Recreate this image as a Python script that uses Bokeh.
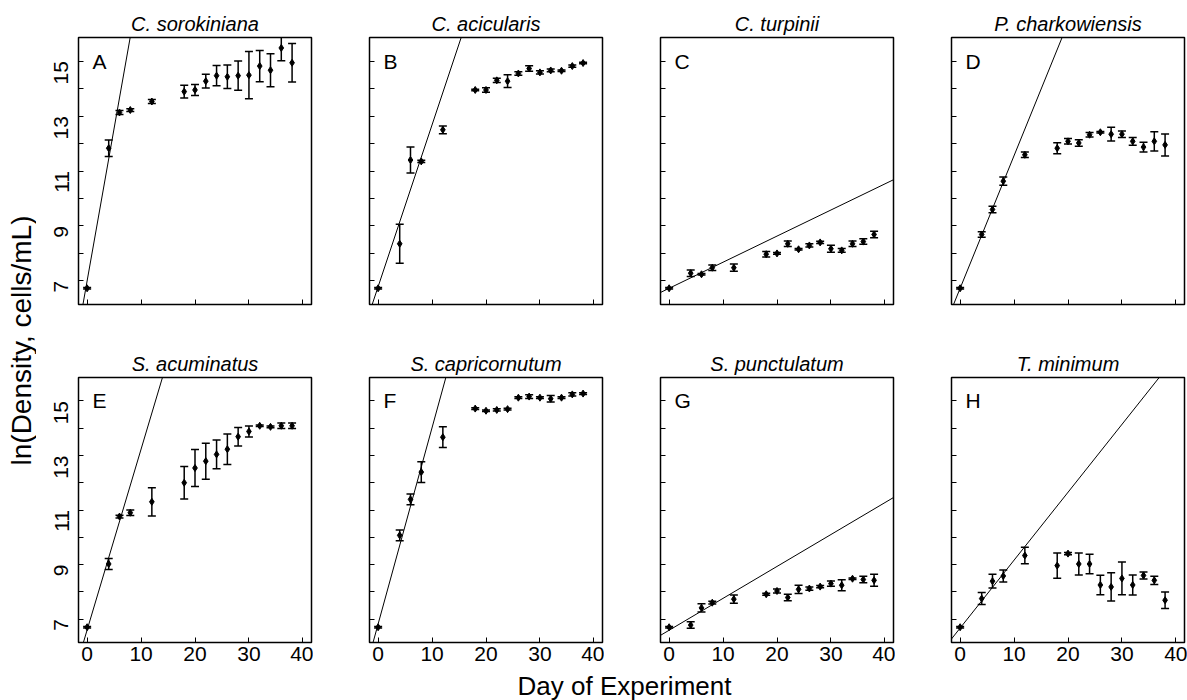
import math
from bokeh.plotting import figure
from bokeh.models import (ColumnDataSource, Whisker, TeeHead, Slope, Range1d,
                          FixedTicker, Label)
from bokeh.layouts import row, column
from bokeh.embed import file_html
from bokeh.resources import INLINE

FONT = "Liberation Sans"

days = [0, 4, 6, 8, 12, 18, 20, 22, 24, 26, 28, 30, 32, 34, 36, 38]
species = ["C. sorokiniana", "C. acicularis", "C. turpinii", "P. charkowiensis",
           "S. acuminatus", "S. capricornutum", "S. punctulatum", "T. minimum"]
letters = ["A", "B", "C", "D", "E", "F", "G", "H"]

A_mean = [6.73, 11.83, 13.13, 13.22, 13.53, 13.89, 13.95, 14.27, 14.47, 14.43, 14.47, 14.49, 14.82, 14.67, 15.48, 14.94]
A_err = [0.03, 0.30, 0.07, 0.05, 0.07, 0.23, 0.20, 0.25, 0.37, 0.43, 0.53, 0.86, 0.57, 0.60, 0.47, 0.70]
B_mean = [6.73, 8.35, 11.40, 11.35, 12.50, 13.95, 13.95, 14.30, 14.27, 14.55, 14.73, 14.59, 14.66, 14.65, 14.82, 14.93]
B_err = [0.03, 0.71, 0.47, 0.04, 0.14, 0.03, 0.08, 0.08, 0.23, 0.06, 0.10, 0.06, 0.05, 0.03, 0.04, 0.03]
C_mean = [6.73, 7.28, 7.24, 7.48, 7.48, 7.97, 8.00, 8.35, 8.15, 8.29, 8.40, 8.17, 8.11, 8.35, 8.43, 8.69]
C_err = [0.03, 0.12, 0.03, 0.10, 0.13, 0.10, 0.03, 0.10, 0.03, 0.06, 0.04, 0.13, 0.07, 0.10, 0.10, 0.12]
D_mean = [6.73, 8.69, 9.60, 10.63, 11.59, 11.83, 12.08, 12.02, 12.32, 12.41, 12.34, 12.34, 12.08, 11.87, 12.08, 11.95]
D_err = [0.03, 0.10, 0.12, 0.15, 0.10, 0.20, 0.10, 0.12, 0.08, 0.03, 0.25, 0.12, 0.14, 0.18, 0.35, 0.40]
E_mean = [6.70, 9.02, 10.76, 10.90, 11.30, 12.00, 12.54, 12.79, 13.04, 13.23, 13.69, 13.88, 14.09, 14.05, 14.09, 14.09]
E_err = [0.03, 0.20, 0.05, 0.10, 0.52, 0.60, 0.68, 0.66, 0.53, 0.56, 0.34, 0.20, 0.03, 0.03, 0.10, 0.10]
F_mean = [6.70, 10.07, 11.39, 12.39, 13.67, 14.72, 14.64, 14.67, 14.70, 15.12, 15.16, 15.12, 15.08, 15.12, 15.24, 15.27]
F_err = [0.03, 0.20, 0.20, 0.38, 0.38, 0.03, 0.03, 0.04, 0.03, 0.03, 0.07, 0.03, 0.12, 0.03, 0.06, 0.03]
G_mean = [6.70, 6.78, 7.41, 7.60, 7.73, 7.91, 8.03, 7.79, 8.09, 8.12, 8.19, 8.30, 8.24, 8.48, 8.45, 8.42]
G_err = [0.03, 0.12, 0.15, 0.05, 0.15, 0.04, 0.07, 0.12, 0.15, 0.06, 0.04, 0.10, 0.20, 0.03, 0.12, 0.22]
H_mean = [6.70, 7.75, 8.39, 8.58, 9.33, 8.96, 9.40, 9.02, 9.02, 8.25, 8.18, 8.49, 8.25, 8.60, 8.42, 7.69]
H_err = [0.03, 0.22, 0.25, 0.22, 0.30, 0.46, 0.04, 0.40, 0.36, 0.36, 0.52, 0.60, 0.37, 0.13, 0.15, 0.30]

means = [A_mean, B_mean, C_mean, D_mean, E_mean, F_mean, G_mean, H_mean]
errs = [A_err, B_err, C_err, D_err, E_err, F_err, G_err, H_err]

fit_slopes = [1.11, 0.589, 0.095, 0.483, 0.663, 0.72, 0.117, 0.249]
fit_intercepts = [7.0, 6.79, 6.73, 6.73, 6.6, 6.82, 6.59, 6.67]

x_ticks = [0, 10, 20, 30, 40]
y_ticks = [7, 8, 9, 10, 11, 12, 13, 14, 15]
y_hidden = {8: "", 10: "", 12: "", 14: ""}

FRAME_W = 233
YLAB_W = 36
XLAB_H = 30


def panel(i):
    r, c = divmod(i, 4)
    left = 78 - YLAB_W if c == 0 else 56
    right = 3 if c == 3 else 2
    if r == 0:
        fh, top, bottom = 267, 37, 36
    else:
        fh, top, bottom = 265, 37, 28
    p = figure(width=left + FRAME_W + right, height=top + fh + bottom,
               x_range=Range1d(-1.6, 41.6), y_range=Range1d(6.14, 15.86),
               output_backend="svg", toolbar_location=None,
               min_border_left=left, min_border_right=right,
               min_border_top=top, min_border_bottom=bottom,
               title=species[i])
    p.title.text_font = FONT
    p.title.text_font_style = "italic"
    p.title.text_font_size = "20px"
    p.title.text_color = "black"
    p.title.align = "center"
    p.title.standoff = 6
    p.grid.visible = False
    p.outline_line_color = "black"
    p.outline_line_width = 1.5
    p.background_fill_color = "white"
    p.border_fill_color = "white"

    p.xaxis.ticker = FixedTicker(ticks=x_ticks)
    p.yaxis.ticker = FixedTicker(ticks=y_ticks)
    for ax in (p.xaxis, p.yaxis):
        ax.axis_line_color = None
        ax.major_tick_in = 5
        ax.major_tick_out = 0
        ax.major_tick_line_color = "black"
        ax.major_tick_line_width = 1
        ax.minor_tick_line_color = None
        ax.major_label_text_font = FONT
        ax.major_label_text_font_size = "21px"
        ax.major_label_text_color = "black"
    p.yaxis.major_label_orientation = math.pi / 2
    p.yaxis.major_label_standoff = 17
    p.xaxis.major_label_standoff = 4
    if c == 0:
        p.yaxis.major_label_overrides = y_hidden
    else:
        p.yaxis.major_label_overrides = {t: "" for t in y_ticks}
    if r == 0:
        p.xaxis.major_label_overrides = {t: "" for t in x_ticks}

    src = ColumnDataSource(dict(
        x=days, y=means[i],
        upper=[m + e for m, e in zip(means[i], errs[i])],
        lower=[m - e for m, e in zip(means[i], errs[i])]))

    p.add_layout(Slope(gradient=fit_slopes[i], y_intercept=fit_intercepts[i],
                       line_color="black", line_width=1))
    p.add_layout(Whisker(source=src, base="x", upper="upper", lower="lower",
                         dimension="height", line_color="black", line_width=1.5,
                         upper_head=TeeHead(size=8, line_width=1.5, line_color="black"),
                         lower_head=TeeHead(size=8, line_width=1.5, line_color="black")))
    p.scatter("x", "y", source=src, marker="diamond", size=7,
              fill_color="black", line_color="black")
    p.add_layout(Label(x=1.0, y=15.0, text=letters[i], text_font=FONT,
                       text_font_size="21px", text_baseline="middle",
                       text_align="left", text_color="black"))
    return p


panels = [panel(i) for i in range(8)]

# y-axis title figure
ylab = figure(width=YLAB_W, height=700, x_range=Range1d(0, YLAB_W), y_range=Range1d(0, 700),
              output_backend="svg", toolbar_location=None,
              x_axis_location=None, y_axis_location=None, min_border=0)
ylab.grid.visible = False
ylab.outline_line_color = None
ylab.add_layout(Label(x=21, y=360, text="ln(Density, cells/mL)", angle=math.pi / 2,
                      text_align="center", text_baseline="alphabetic",
                      text_font=FONT, text_font_size="28px", text_color="black"))

# x-axis title figure
xw = 1187 - YLAB_W
xlab = figure(width=xw, height=XLAB_H, x_range=Range1d(0, xw), y_range=Range1d(0, XLAB_H),
              output_backend="svg", toolbar_location=None,
              x_axis_location=None, y_axis_location=None, min_border=0)
xlab.grid.visible = False
xlab.outline_line_color = None
xlab.add_layout(Label(x=624 - YLAB_W, y=XLAB_H / 2, text="Day of Experiment",
                      text_align="center", text_baseline="middle",
                      text_font=FONT, text_font_size="26px", text_color="black"))

layout = row(ylab, column(row(*panels[:4]), row(*panels[4:]), xlab))

with open("out.html", "w") as f:
    f.write(file_html(layout, INLINE))
